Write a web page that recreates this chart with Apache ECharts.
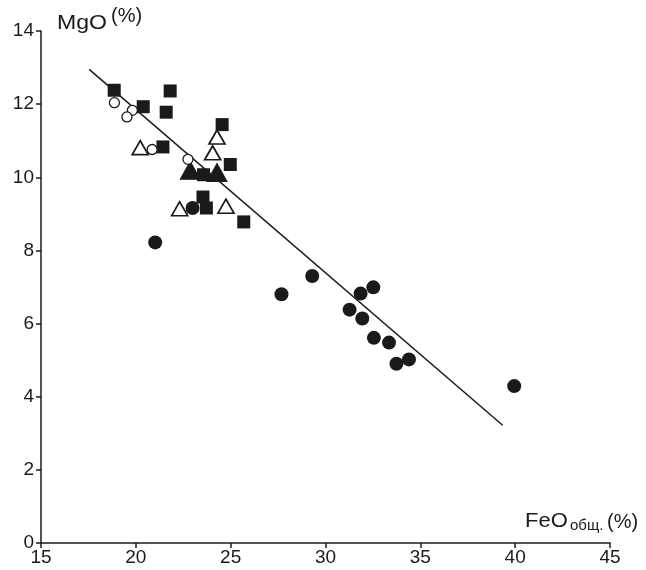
<!DOCTYPE html>
<html><head><meta charset="utf-8">
<script src="https://cdn.jsdelivr.net/npm/echarts@6/dist/echarts.min.js"></script>
<style>html,body{margin:0;padding:0;background:#fff}#c{width:646px;height:570px}</style>
</head><body><div id="c"></div>
<script>
const xTicks = [15, 20, 25, 30, 35, 40, 45];
const yTicks = [0, 2, 4, 6, 8, 10, 12, 14];
const filledSquares = [[18.86,12.38],[20.39,11.93],[21.81,12.36],[21.60,11.78],[21.43,10.83],[24.55,11.44],[24.98,10.35],[23.57,10.07],[23.54,9.46],[23.72,9.16],[25.69,8.78]];
const openCircles = [[18.87,12.04],[19.82,11.83],[19.53,11.65],[20.86,10.76],[22.75,10.49]];
const openTriangles = [[20.23,10.81],[24.28,11.10],[24.05,10.67],[22.31,9.14],[24.75,9.21]];
const filledTriangles = [[22.87,10.19],[24.28,10.13]];
const filledCircles = [[22.99,9.16],[21.02,8.22],[27.68,6.80],[29.30,7.30],[31.85,6.82],[32.52,6.99],[31.27,6.38],[31.94,6.14],[32.55,5.61],[33.35,5.48],[33.74,4.90],[34.40,5.02],[39.95,4.29]];
const trendLine = [[17.54,12.95],[39.34,3.22]];

const ink = '#1a1a1a';
const FF = 'Liberation Sans, Arial, sans-serif';
const chart = echarts.init(document.getElementById('c'));
const axisCommon = {
  axisLine:{show:true,lineStyle:{color:ink,width:1.5}},
  axisTick:{show:true,length:5,lineStyle:{color:ink,width:1.5}},
  splitLine:{show:false},
  axisLabel:{color:ink,fontSize:19,fontFamily:FF}
};
chart.setOption({
  animation:false,
  grid:{left:41,right:36,top:31,bottom:27},
  xAxis:Object.assign({type:'value',min:xTicks[0],max:xTicks[xTicks.length-1],interval:5},axisCommon,{axisLabel:Object.assign({},axisCommon.axisLabel,{margin:5})}),
  yAxis:Object.assign({type:'value',min:yTicks[0],max:yTicks[yTicks.length-1],interval:2},axisCommon,{axisLabel:Object.assign({},axisCommon.axisLabel,{margin:7})}),
  graphic:[
    {type:'text',x:57,y:13,scaleX:1.1,style:{text:'MgO',font:'21px '+FF,fill:ink}},
    {type:'text',x:111,y:6,style:{text:'(%)',font:'20px '+FF,fill:ink}},
    {type:'text',x:525,y:511,scaleX:1.1,style:{text:'FeO',font:'20px '+FF,fill:ink}},
    {type:'text',x:570,y:518,style:{text:'общ.',font:'15px '+FF,fill:ink}},
    {type:'text',x:607,y:512,style:{text:'(%)',font:'20px '+FF,fill:ink}}
  ],
  series:[
    {type:'line',data:trendLine,symbol:'none',lineStyle:{color:ink,width:1.5},z:1},
    {type:'scatter',data:filledSquares,symbol:'rect',symbolSize:13,itemStyle:{color:ink,opacity:1},z:3},
    {type:'scatter',data:openCircles,symbol:'circle',symbolSize:10,itemStyle:{color:'#fff',borderColor:ink,borderWidth:1.3,opacity:1},z:4},
    {type:'scatter',data:openTriangles,symbol:'triangle',symbolSize:[16,14],itemStyle:{color:'#fff',borderColor:ink,borderWidth:1.7,opacity:1},z:4},
    {type:'scatter',data:filledTriangles,symbol:'triangle',symbolSize:[20,18],itemStyle:{color:ink,borderColor:ink,borderWidth:1,opacity:1},z:3},
    {type:'scatter',data:filledCircles,symbol:'circle',symbolSize:14,itemStyle:{color:ink,opacity:1},z:3}
  ]
});
</script></body></html>
